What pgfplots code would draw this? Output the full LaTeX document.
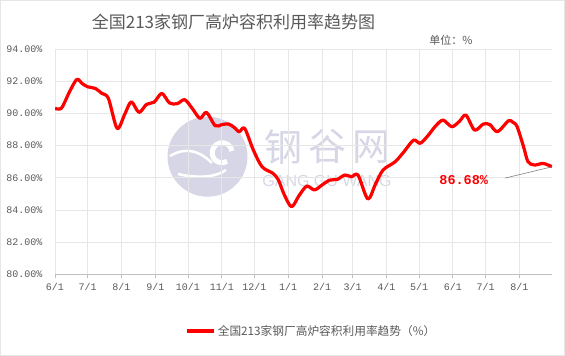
\documentclass[border=0pt]{standalone}
\usepackage{fontspec}
\usepackage{pgfplots}
\pgfplotsset{compat=1.18}
\setmainfont{Liberation Sans}
\setmonofont{Liberation Mono}
\newfontfamily\cjk{Noto Sans CJK SC}
\definecolor{txtgray}{HTML}{595959}
\definecolor{gridgray}{HTML}{E6E6E6}
\definecolor{axgray}{HTML}{BFBFBF}
\definecolor{wm}{HTML}{D6D6E6}
\begin{document}
\begin{tikzpicture}
\useasboundingbox (0pt,0pt) rectangle (565pt,356pt);
\draw[color=gridgray,line width=1pt] (0.5pt,0.5pt) rectangle (564.5pt,355.5pt);
% watermark
\fill[wm] (207.5pt,199.3pt) circle (40pt);
\draw[white,line width=5pt] (232pt,205pt) arc (10:300:10pt);
\draw[white,line width=2.5pt] (170pt,200pt) .. controls (190pt,212pt) and (205pt,200pt) .. (212pt,193pt);
\draw[white,line width=2.5pt] (178pt,182pt) .. controls (195pt,178pt) and (215pt,178pt) .. (226pt,186pt);
\node[text=wm,font={\cjk\fontsize{38}{40}\selectfont}] at (283pt,209.3pt) {钢};
\node[text=wm,font={\cjk\fontsize{38}{40}\selectfont}] at (327pt,209.3pt) {谷};
\node[text=wm,font={\cjk\fontsize{38}{40}\selectfont}] at (371pt,209.3pt) {网};
\node[text=wm,font={\fontsize{16}{18}\selectfont}] at (327pt,175pt) {GANG GU WANG};
% title
\node[text=txtgray,font={\cjk\fontsize{17}{20}\selectfont}] at (233.5pt,334pt) {全国213家钢厂高炉容积利用率趋势图};
\node[text=txtgray,font={\cjk\fontsize{11}{13}\selectfont}] at (451pt,316pt) {单位：\%};
\begin{axis}[
  at={(55pt,81.7pt)}, anchor=south west,
  width=497pt, height=225.3pt, scale only axis,
  xmin=0, xmax=456, ymin=80, ymax=94,
  xtick={0,30,61,92,122,153,183,214,245,273,304,334,365,395,426},
  xticklabels={6/1,7/1,8/1,9/1,10/1,11/1,12/1,1/1,2/1,3/1,4/1,5/1,6/1,7/1,8/1},
  ytick={80,82,84,86,88,90,92,94},
  yticklabels={80.00\%,82.00\%,84.00\%,86.00\%,88.00\%,90.00\%,92.00\%,94.00\%},
  axis x line*=bottom, axis y line*=left,
  y axis line style={draw=none},
  x axis line style={draw=axgray, line width=0.8pt, -},
  ytick style={draw=none},
  xtick style={draw=axgray, line width=0.8pt},
  tick align=outside, major tick length=4pt,
  grid=major, grid style={gridgray, line width=0.8pt},
  tick label style={font={\ttfamily\fontsize{10}{12}\selectfont}, text=txtgray},
  yticklabel style={xshift=-5pt},
  xticklabel style={yshift=-1pt},
  legend style={at={(0.516,-0.2517)}, anchor=center, draw=none, fill=none,
     font={\cjk\fontsize{11.7}{14}\selectfont}, text=txtgray},
  legend image code/.code={\draw[red, line width=3.2pt] (0pt,0pt) -- (27pt,0pt);},
]
\addplot[red, line width=3.2pt, smooth, tension=0.5, line join=round] coordinates {
(0,90.31) (6,90.33) (13,91.3) (20,92.11) (25,91.85) (30,91.65) (37,91.55) (43,91.24)
(49,90.93) (57,89.07) (64,89.95) (70,90.72) (77,90.06) (84,90.56) (91,90.70) (98,91.24)
(105,90.65) (112,90.60) (119,90.85) (126,90.3) (133,89.69) (139,90.06) (147,89.23)
(153,89.3) (159,89.34) (164,89.15) (169,88.86) (174,89.07) (182,87.72) (190,86.68)
(200,86.27) (205,85.86) (210,85.0) (217,84.20) (224,84.9) (231,85.48) (238,85.24)
(245,85.55) (252,85.85) (259,85.9) (266,86.17) (272,86.06) (278,86.17) (287,84.68)
(294,85.6) (301,86.48) (312,86.99) (320,87.6) (329,88.34) (335,88.14) (342,88.6)
(349,89.2) (356,89.58) (364,89.17) (371,89.5) (377,89.89) (385,88.96) (393,89.34)
(399,89.3) (406,88.86) (416,89.54) (420,89.45) (424,89.17) (430,87.9) (434,86.99)
(440,86.79) (448,86.89) (456,86.68)
};
\addlegendentry{全国213家钢厂高炉容积利用率趋势（\%）}
\draw[gray, line width=0.6pt] (axis cs:413,85.98) -- (axis cs:456,86.68);
\node[text=red, font={\ttfamily\bfseries\fontsize{13.5}{15}\selectfont}] at (axis cs:375,85.86) {86.68\%};
\end{axis}
\end{tikzpicture}
\end{document}
